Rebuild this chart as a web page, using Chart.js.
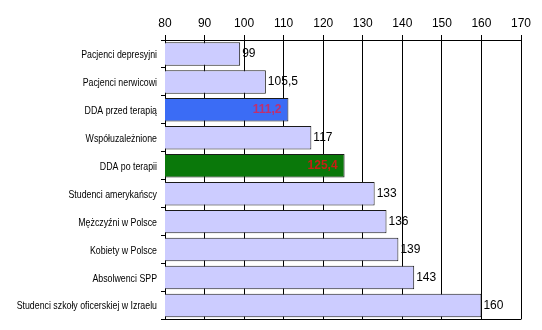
<!DOCTYPE html>
<html>
<head>
<meta charset="utf-8">
<script src="https://cdn.jsdelivr.net/npm/chart.js@4/dist/chart.umd.min.js"></script>
<style>
  html, body { margin:0; padding:0; background:#fff; }
  #c { display:block; }
</style>
</head>
<body>
<canvas id="c" width="542" height="330"></canvas>
<script>
// grupy i wyniki
const categories = [
  'Pacjenci depresyjni',
  'Pacjenci nerwicowi',
  'DDA przed terapią',
  'Współuzależnione',
  'DDA po terapii',
  'Studenci amerykańscy',
  'Mężczyźni w Polsce',
  'Kobiety w Polsce',
  'Absolwenci SPP',
  'Studenci szkoły oficerskiej w Izraelu'
];
const values = [99, 105.5, 111.2, 117, 125.4, 133, 136, 139, 143, 160];
const xTicks = [80, 90, 100, 110, 120, 130, 140, 150, 160, 170];

const barColors = ['#ccccff','#ccccff','#3b6cf5','#ccccff','#0a780a','#ccccff','#ccccff','#ccccff','#ccccff','#ccccff'];
// etykiety wewnątrz słupków (wyróżnione grupy)
const insideColors = { 2: '#c0306e', 4: '#c81e14' };

const FONT = '"Liberation Sans", Arial, sans-serif';
const fmt = v => String(v).replace('.', ',');

// ramka dolna, zwężone nazwy grup, wartości przy słupkach
const valueLabels = {
  id: 'valueLabels',
  afterDatasetsDraw(chart) {
    const { ctx, chartArea: a } = chart;
    ctx.save();
    ctx.strokeStyle = '#000';
    ctx.lineWidth = 1;
    ctx.beginPath();
    ctx.moveTo(a.left, Math.round(a.bottom) + 0.5);
    ctx.lineTo(a.right, Math.round(a.bottom) + 0.5);
    ctx.stroke();

    const meta = chart.getDatasetMeta(0);
    ctx.textBaseline = 'middle';

    // nazwy kategorii, ściśnięte w poziomie
    ctx.font = '11px ' + FONT;
    ctx.fillStyle = '#000';
    ctx.textAlign = 'right';
    meta.data.forEach((bar, i) => {
      ctx.save();
      ctx.translate(a.left - 8, bar.y + 1);
      ctx.scale(0.8, 1);
      ctx.fillText(categories[i], 0, 0);
      ctx.restore();
    });

    meta.data.forEach((bar, i) => {
      const txt = fmt(values[i]);
      if (insideColors[i]) {
        ctx.font = 'bold 12px ' + FONT;
        ctx.fillStyle = insideColors[i];
        ctx.textAlign = 'right';
        ctx.fillText(txt, bar.x - 7, bar.y);
      } else {
        ctx.font = '12px ' + FONT;
        ctx.fillStyle = '#000';
        ctx.textAlign = 'left';
        ctx.fillText(txt, bar.x + 2, bar.y);
      }
    });
    ctx.restore();
  }
};

new Chart(document.getElementById('c'), {
  type: 'bar',
  data: {
    labels: categories,
    datasets: [{
      data: values,
      backgroundColor: barColors,
      borderColor: '#1a1a1a',
      borderWidth: 1,
      borderSkipped: false,
      barPercentage: 0.84,
      categoryPercentage: 1
    }]
  },
  options: {
    indexAxis: 'y',
    responsive: false,
    animation: false,
    layout: { padding: { top: 0, right: 21, bottom: 4, left: 0 } },
    plugins: { legend: { display: false }, tooltip: { enabled: false } },
    scales: {
      x: {
        position: 'top',
        min: 80,
        max: 170,
        afterBuildTicks: s => { s.ticks = xTicks.map(v => ({ value: v })); },
        afterFit: s => { s.height = 40; },
        grid: { color: '#000', lineWidth: 1, tickLength: 5, drawOnChartArea: true },
        border: { color: '#000' },
        ticks: {
          color: '#000',
          padding: 4,
          font: { family: FONT, size: 12 }
        }
      },
      y: {
        afterFit: s => { s.width = 165; },
        grid: { color: '#000', drawOnChartArea: false, tickLength: 4, offset: true },
        border: { color: '#000' },
        ticks: {
          color: 'rgba(0,0,0,0)',
          padding: 4,
          font: { family: FONT, size: 11 }
        }
      }
    }
  },
  plugins: [valueLabels]
});
</script>
</body>
</html>
